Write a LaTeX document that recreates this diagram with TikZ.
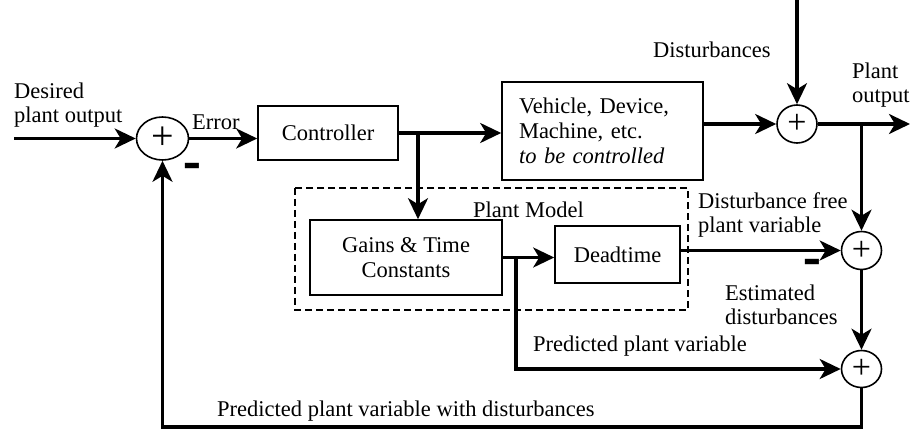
\documentclass[tikz,border=0pt]{standalone}
\usepackage{fontspec}
\setmainfont{Liberation Serif}
\newfontfamily\minusfont{Liberation Sans}
\usetikzlibrary{arrows.meta,shapes.geometric}
\begin{document}
\begin{tikzpicture}[x=1pt,y=-1pt,
  lbl/.style={font=\fontsize{22.5}{24}\selectfont, inner sep=0pt, align=left},
  blockbox/.style={draw, line width=1.6pt, inner sep=0pt, font=\fontsize{22.5}{25}\selectfont, align=center},
  sumnode/.style={draw, ellipse, line width=1.6pt, inner sep=0pt, minimum width=40pt, minimum height=38pt, font=\fontsize{34}{34}\selectfont},
  flow/.style={line width=3.2pt, -{Stealth[length=21pt,width=20pt,inset=6pt]}},
  minus/.style={font=\minusfont\fontsize{27}{27}\bfseries\selectfont, inner sep=0pt},
  modelbox/.style={draw, line width=1.4pt, dash pattern=on 7pt off 4pt},
]
\useasboundingbox (0,0) rectangle (911,430);

% summing junctions
\node[sumnode, minimum width=52pt, minimum height=43pt, font=\fontsize{40}{40}\selectfont] (sum1) at (162.5,138.5) {+};
\node[sumnode] (sum2) at (797,124) {+};
\node[sumnode] (sum3) at (861.5,250.5) {+};
\node[sumnode, minimum height=37pt] (sum4) at (861.5,369) {+};

% blocks
\node[blockbox, minimum width=140pt, minimum height=54pt] (ctrl) at (328,133) {Controller};
\node[blockbox, minimum width=201pt, minimum height=98pt, text width=167pt, align=left] (veh) at (602.5,131)
  {Vehicle, Device,\\ Machine, etc.\\ \textit{to be controlled}};
\node[blockbox, minimum width=192pt, minimum height=75pt] (gains) at (406,257.5) {Gains \& Time\\ Constants};
\node[blockbox, minimum width=125pt, minimum height=57pt] (dead) at (617.5,254.5) {Deadtime};

% plant model dashed box
\draw[modelbox] (295,188) rectangle (688,310);
\node[lbl, anchor=base west] (pm) at (473,218) {Plant Model};

% labels (base = baseline of the last line)
\node[lbl, anchor=base west] (ldes) at (14,123) {Desired\\ plant output};
\node[lbl, anchor=base west] (lerr) at (192,130) {Error};
\node[lbl, anchor=base west] (ldist) at (653,58) {Disturbances};
\node[lbl, anchor=base west] (lout) at (852,103) {Plant\\ output};
\node[lbl, anchor=base west] (ldf) at (698,233) {Disturbance free\\ plant variable};
\node[lbl, anchor=base west] (lest) at (725,325) {Estimated\\ disturbances};
\node[lbl, anchor=base west] (lpred) at (533,352) {Predicted plant variable};
\node[lbl, anchor=base west] (lpwd) at (217,417) {Predicted plant variable with disturbances};
\node[minus] (m1) at (192,172) {\scalebox{1.05}[2.0]{–}};
\node[minus] (m2) at (812,268) {\scalebox{1.05}[2.0]{–}};

% coordinates
\coordinate (din) at (14,138.5);
\coordinate (dtop) at (797,0);
\coordinate (out) at (910,124);
\coordinate (b1) at (418,133);
\coordinate (b3) at (516,257.5);
\coordinate (fb) at (162.5,427);

% connectors
\draw[flow] (din) -- (sum1.west);
\draw[flow] (sum1.east) -- (sum1 -| ctrl.west);
\draw[flow] (ctrl.east) -- (ctrl -| veh.west);
\draw[flow] (b1) -- (b1 |- gains.north);
\draw[flow] (veh.east |- sum2) -- (sum2.west);
\draw[flow] (dtop) -- (sum2.north);
\draw[flow] (sum2.east) -- (out);
\draw[flow] (sum3 |- sum2) -- (sum3.north);
\draw[flow] (gains.east) -- (gains -| dead.west);
\draw[flow] (dead.east |- sum3) -- (sum3.west);
\draw[flow] (b3) |- (sum4.west);
\draw[flow] (sum3.south) -- (sum4.north);
\draw[flow] (sum4.south) |- (fb) -- (sum1.south);
\end{tikzpicture}
\end{document}
